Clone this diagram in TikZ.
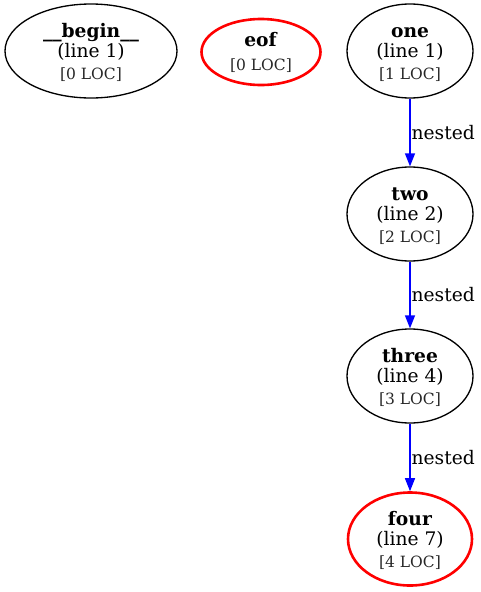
\documentclass[tikz,border=0pt]{standalone}
\usepackage{fontspec}
\setmainfont{DejaVu Serif}
\usetikzlibrary{shapes.geometric,arrows.meta}
\newcommand{\locfont}{\fontsize{15.5}{18}\selectfont\color{black!85}}
\newcommand{\toprule}[1]{\rule{0pt}{#1pt}}
\newcommand{\botrule}{\rule[-3.5pt]{0pt}{3.5pt}}

\begin{document}
\begin{tikzpicture}[x=1pt, y=-1pt,
    func/.style={ellipse, draw=black, line width=1.33pt, inner sep=0pt,
                 minimum width=126, minimum height=94, align=center,
                 font=\fontsize{18.67}{20}\selectfont},
    leaf/.style={func, draw=red, line width=2.6pt},
    nest/.style={-{Triangle[length=13pt, width=10pt]}, blue, line width=1.33pt}]

\useasboundingbox (0,0) rectangle (480,592);

\draw
    (91,51)   node[func, minimum width=172](b) {\toprule{18.2}\textbf{\_\_begin\_\_}\\(line 1)\\[1.3pt]{\locfont [0 LOC]}\botrule}
    (261,52)  node[leaf, minimum width=119, minimum height=66](e) {\toprule{16.8}\textbf{eof}\\[4.3pt]{\locfont [0 LOC]}\botrule}
    (410,51)  node[func](one) {\toprule{18.2}\textbf{one}\\(line 1)\\[1.3pt]{\locfont [1 LOC]}\botrule}
    (410,214) node[func](two) {\toprule{18.2}\textbf{two}\\(line 2)\\[1.3pt]{\locfont [2 LOC]}\botrule}
    (410,376) node[func](three) {\toprule{18.2}\textbf{three}\\(line 4)\\[1.3pt]{\locfont [3 LOC]}\botrule}
    (410,539) node[leaf, minimum width=124, minimum height=93](four) {\toprule{18.2}\textbf{four}\\(line 7)\\[1.3pt]{\locfont [4 LOC]}\botrule}
    ;
\draw[nest] (one) -- node[right, inner sep=1pt, black, font=\fontsize{18.67}{20}\selectfont]{nested} (two);
\draw[nest] (two) -- node[right, inner sep=1pt, black, font=\fontsize{18.67}{20}\selectfont]{nested} (three);
\draw[nest] (three) -- node[right, inner sep=1pt, black, font=\fontsize{18.67}{20}\selectfont]{nested} (four);

\end{tikzpicture}
\end{document}
